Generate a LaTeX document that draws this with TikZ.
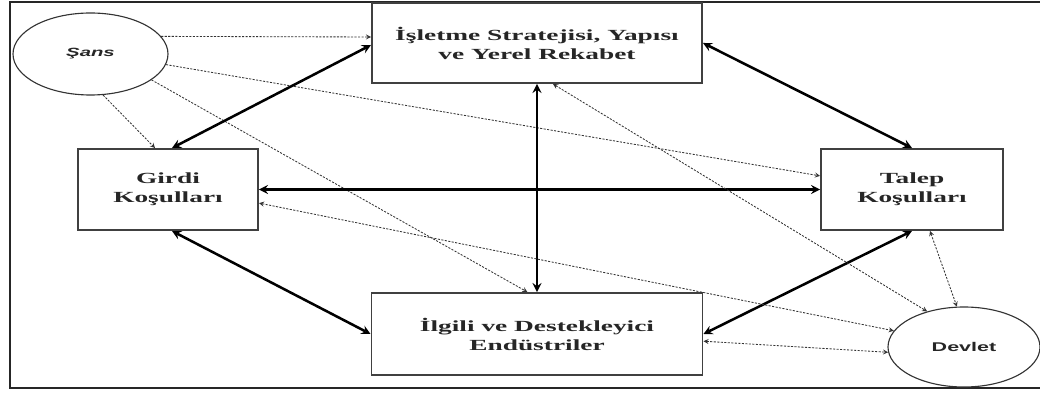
\documentclass[tikz,border=0pt]{standalone}
\usepackage{fontspec}
\usepackage{tikz}
\usetikzlibrary{arrows,shapes.geometric,positioning}
\newfontfamily\boxfont{Liberation Serif}[FakeStretch=1.77]
\newfontfamily\ellfont{Liberation Sans}[FakeStretch=1.7]
\tikzstyle{recNode} = [rectangle, text centered, align=center, draw=black!75, line width=1.4pt, text=black!85, font=\boxfont\bfseries\fontsize{11}{13.5}\selectfont]
\tikzstyle{ellNode} = [ellipse, inner sep=0pt, draw=black!80, line width=0.8pt, text=black!85]
\tikzstyle{frameLine} = [line width=2pt, draw=black!85]
\tikzstyle{arrowT} = [line width=1.8pt,<->,>=stealth,draw=black]
\tikzstyle{arrowD} = [line width=0.6pt,->,>=stealth,draw=black!80,dash pattern=on 1.5pt off 1pt]
\tikzstyle{arrowDD} = [arrowD,<->]

\begin{document}
\begin{tikzpicture}[node distance=1.2cm]
    \useasboundingbox (0,0) rectangle (26,-9.85);
    \draw [frameLine] (26,-0.05) -- (0.25,-0.05) -- (0.25,-9.7) -- (26,-9.7);

    \node (isletme) [recNode, minimum width=8.25cm, minimum height=2cm] at (13.425,-1.075) {İşletme Stratejisi, Yapısı\\ve Yerel Rekabet};
    \node (girdi) [recNode, minimum width=4.5cm, minimum height=2.025cm, below of=isletme, xshift=-9.225cm, yshift=-2.4625cm] {Girdi\\Koşulları};
    \node (talep) [recNode, minimum width=4.55cm, minimum height=2.025cm, right of=girdi, xshift=17.4cm] {Talep\\Koşulları};
    \node (ilgili) [recNode, minimum width=8.275cm, minimum height=2.05cm, below of=isletme, yshift=-6.075cm] {İlgili ve Destekleyici\\Endüstriler};
    \node (sans) [ellNode, minimum width=3.875cm, minimum height=2.05cm, left of=isletme, xshift=-9.9625cm, yshift=-0.275cm, font=\ellfont\bfseries\itshape\fontsize{8.5}{10}\selectfont] {Şans};
    \node (devlet) [ellNode, minimum width=3.8cm, minimum height=2cm, below of=talep, xshift=1.3cm, yshift=-2.7375cm, font=\ellfont\bfseries\fontsize{9}{11}\selectfont] {Devlet};

    % sans etkileri
    \draw [arrowD] (sans.14) -- ([yshift=0.15cm]isletme.west);
    \draw [arrowD] (sans.-73) -- ([xshift=-0.325cm]girdi.north);
    \draw [arrowD] (sans.-8) -- ([yshift=0.34cm]talep.west);
    \draw [arrowD] (sans.-23.5) -- ([xshift=-0.24cm]ilgili.north);

    % elmas
    \draw [arrowT] ([yshift=-0.05cm]isletme.west) -- ([xshift=0.1cm]girdi.north);
    \draw [arrowT] (isletme.east) -- (talep.north);
    \draw [arrowT] (isletme.south) -- (ilgili.north);
    \draw [arrowT] (girdi.east) -- (talep.west);
    \draw [arrowT] ([xshift=0.1cm]girdi.south) -- (ilgili.west);
    \draw [arrowT] (talep.south) -- (ilgili.east);

    % devlet etkileri
    \draw [arrowDD] ([xshift=0.4cm]isletme.south) -- (devlet.136);
    \draw [arrowDD] ([yshift=-0.34cm]girdi.east) -- (devlet.167);
    \draw [arrowDD] ([yshift=-0.18cm]ilgili.east) -- (devlet.184);
    \draw [arrowDD] ([xshift=0.45cm]talep.south) -- (devlet.100);
\end{tikzpicture}
\end{document}
